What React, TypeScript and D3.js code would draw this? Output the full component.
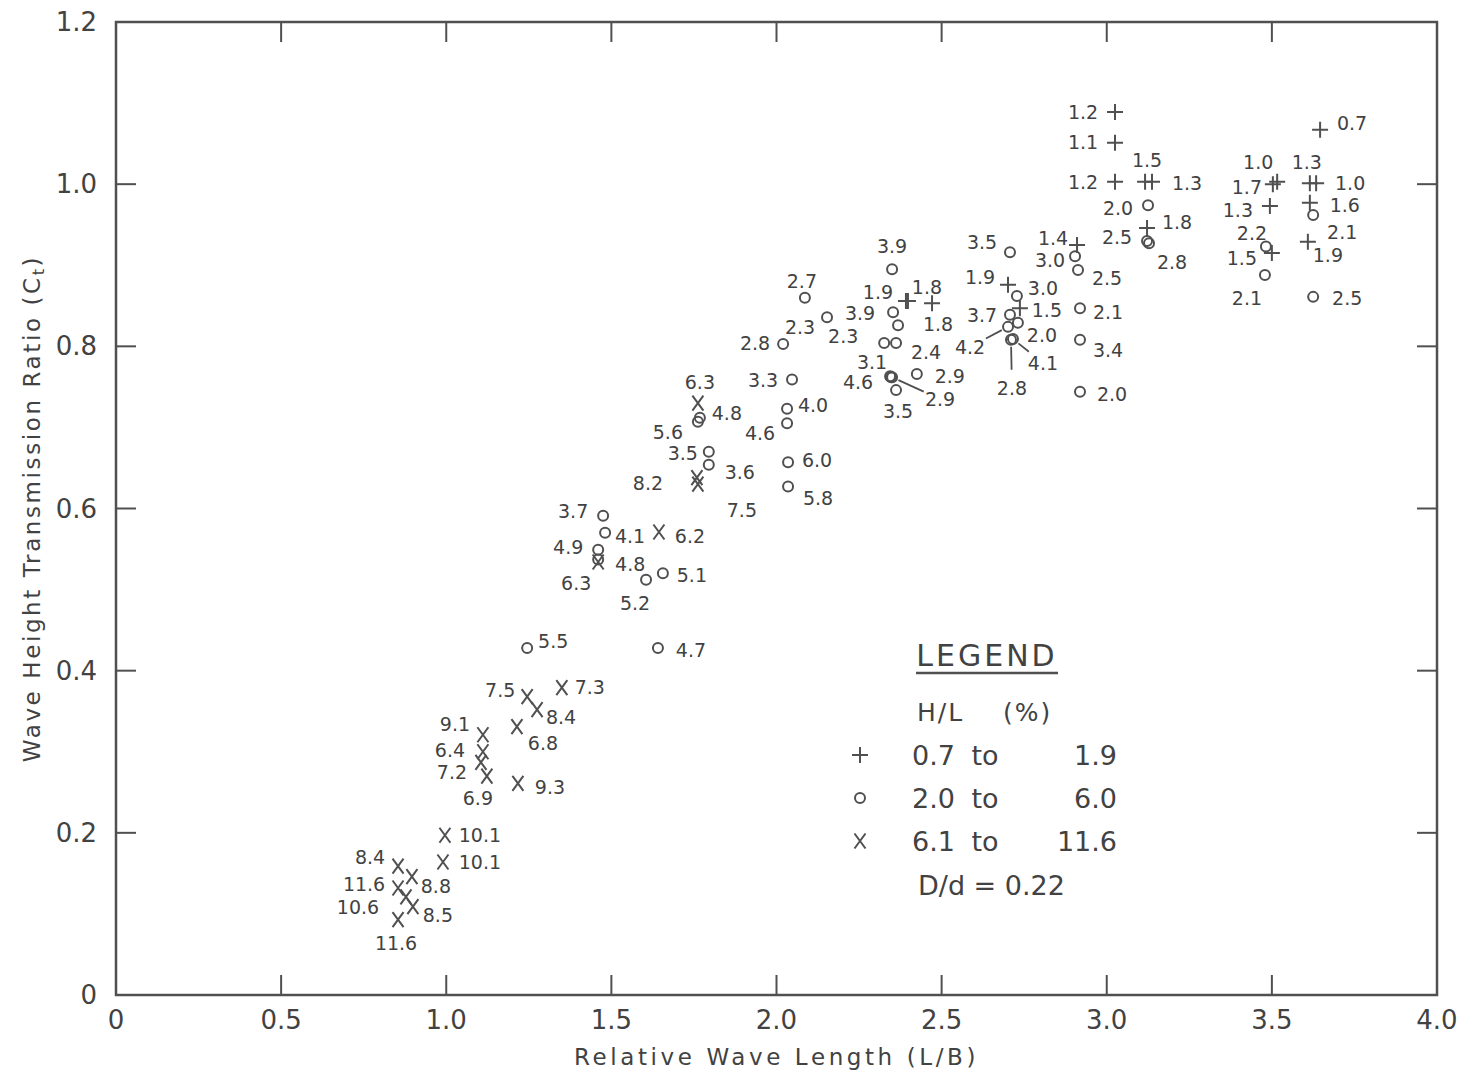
import React from "react";
import * as d3 from "d3";

// ---------- data ----------
const xTickValues = [0, 0.5, 1.0, 1.5, 2.0, 2.5, 3.0, 3.5, 4.0];
const xTickLabels = ["0", "0.5", "1.0", "1.5", "2.0", "2.5", "3.0", "3.5", "4.0"];
const yTickValues = [0, 0.2, 0.4, 0.6, 0.8, 1.0, 1.2];
const yTickLabels = ["0", "0.2", "0.4", "0.6", "0.8", "1.0", "1.2"];

// H/L 0.7 - 1.9  (+)
const plusPoints: [number, number, string][] = [
  [2.392, 0.856, "1.9"], [2.398, 0.856, "1.8"], [2.471, 0.853, "1.8"],
  [2.910, 0.925, "1.4"], [2.701, 0.876, "1.9"], [2.737, 0.847, "1.5"],
  [3.025, 1.089, "1.2"], [3.025, 1.051, "1.1"], [3.025, 1.003, "1.2"],
  [3.116, 1.003, "1.5"], [3.137, 1.003, "1.3"], [3.122, 0.946, "1.8"],
  [3.646, 1.067, "0.7"], [3.516, 1.003, "1.0"], [3.503, 1.000, "1.7"],
  [3.615, 1.001, "1.3"], [3.634, 1.001, "1.0"], [3.494, 0.973, "1.3"],
  [3.615, 0.977, "1.6"], [3.500, 0.915, "1.5"], [3.609, 0.929, "1.9"],
];
const plusLabelOffsets: number[][] = [
  [-28, -9], [19, -14], [6, 21], [-24, -7], [-28, -8], [27, 2],
  [-32, 0], [-32, -1], [-32, 0], [2, -22], [35, 1], [30, -6],
  [32, -7], [-19, -20], [-26, 3], [-3, -21], [34, 0], [-32, 4],
  [35, 2], [-30, 5], [20, 13],
];

// H/L 2.0 - 6.0  (o)
const circlePoints: [number, number, string][] = [
  [1.245, 0.428, "5.5"], [1.475, 0.591, "3.7"], [1.481, 0.570, "4.1"],
  [1.460, 0.549, "4.9"], [1.460, 0.537, "4.8"], [1.656, 0.520, "5.1"],
  [1.605, 0.512, "5.2"], [1.641, 0.428, "4.7"], [1.762, 0.707, "5.6"],
  [1.768, 0.712, "4.8"], [1.795, 0.670, "3.5"], [1.795, 0.654, "3.6"],
  [2.047, 0.759, "3.3"], [2.032, 0.723, "4.0"], [2.032, 0.705, "4.6"],
  [2.035, 0.657, "6.0"], [2.035, 0.627, "5.8"], [2.086, 0.860, "2.7"],
  [2.153, 0.836, "2.3"], [2.020, 0.803, "2.8"], [2.350, 0.895, "3.9"],
  [2.353, 0.842, "3.9"], [2.368, 0.826, ""], [2.326, 0.804, "2.3"],
  [2.362, 0.804, "2.4"], [2.344, 0.763, "3.1"], [2.347, 0.762, "4.6"],
  [2.350, 0.762, "2.9"], [2.362, 0.746, "3.5"], [2.425, 0.766, "2.9"],
  [2.707, 0.916, "3.5"], [2.904, 0.911, "3.0"], [2.913, 0.894, "2.5"],
  [2.728, 0.862, "3.0"], [2.919, 0.847, "2.1"], [2.707, 0.839, "3.7"],
  [2.731, 0.829, "2.0"], [2.701, 0.824, "4.2"], [2.710, 0.808, "2.8"],
  [2.716, 0.809, "4.1"], [2.919, 0.808, "3.4"], [2.919, 0.744, "2.0"],
  [3.125, 0.974, "2.0"], [3.122, 0.930, "2.5"], [3.128, 0.927, "2.8"],
  [3.625, 0.962, "2.1"], [3.482, 0.923, "2.2"], [3.479, 0.888, "2.1"],
  [3.625, 0.861, "2.5"],
];
const circleLabelOffsets: number[][] = [
  [26, -7], [-30, -5], [25, 3], [-30, -3], [32, 4], [29, 2],
  [-11, 23], [33, 2], [-30, 10], [27, -5], [-26, 1], [31, 7],
  [-29, 0], [26, -4], [-27, 10], [29, -2], [30, 11], [-3, -17],
  [-27, 10], [-28, -1], [0, -23], [-33, 1], [0, 0], [-41, -7],
  [30, 9], [-18, -14], [-33, 5], [48, 22], [2, 21], [33, 2],
  [-28, -10], [-25, 4], [29, 8], [26, -8], [28, 4], [-28, 0],
  [24, 12], [-38, 20], [1, 48], [30, 24], [28, 10], [32, 2],
  [-30, 3], [-30, -4], [23, 19], [29, 17], [-14, -14], [-18, 23],
  [34, 1],
];
const circleLeaders = [27, 37, 38, 39];

// H/L 6.1 - 11.6  (x)
const crossPoints: [number, number, string][] = [
  [0.996, 0.197, "10.1"], [0.990, 0.164, "10.1"], [0.854, 0.159, "8.4"],
  [0.896, 0.146, "8.8"], [0.854, 0.132, "11.6"], [0.878, 0.121, "10.6"],
  [0.899, 0.109, "8.5"], [0.854, 0.093, "11.6"], [1.350, 0.379, "7.3"],
  [1.245, 0.368, "7.5"], [1.275, 0.352, "8.4"], [1.214, 0.331, "6.8"],
  [1.111, 0.321, "9.1"], [1.111, 0.300, "6.4"], [1.105, 0.287, "7.2"],
  [1.123, 0.270, "6.9"], [1.217, 0.261, "9.3"], [1.644, 0.571, "6.2"],
  [1.460, 0.534, "6.3"], [1.762, 0.730, "6.3"], [1.759, 0.638, "8.2"],
  [1.762, 0.630, "7.5"],
];
const crossLabelOffsets: number[][] = [
  [35, 0], [37, 0], [-28, -9], [24, 9], [-34, -4], [-48, 10],
  [25, 8], [-2, 23], [28, -1], [-27, -7], [24, 7], [26, 16],
  [-28, -11], [-33, -2], [-29, 10], [-9, 22], [32, 4], [31, 4],
  [-22, 21], [2, -21], [-49, 5], [44, 26],
];

const legendRows: [string, string, string][] = [
  ["+", "0.7", "1.9"],
  ["o", "2.0", "6.0"],
  ["x", "6.1", "11.6"],
];

// ---------- drawing ----------
const INK = "#505050";
const TXT = "#424242";
const FONT = "'DejaVu Sans', 'Liberation Sans', sans-serif";

function Marker({ kind, cx, cy }: { kind: string; cx: number; cy: number }) {
  if (kind === "+")
    return (
      <path d={`M${cx - 8},${cy}H${cx + 8}M${cx},${cy - 8}V${cy + 8}`} stroke={INK} strokeWidth={2} fill="none" />
    );
  if (kind === "o") return <circle cx={cx} cy={cy} r={5} stroke={INK} strokeWidth={2} fill="none" />;
  return (
    <path d={`M${cx - 5.5},${cy - 7.5}L${cx + 5.5},${cy + 7.5}M${cx + 5.5},${cy - 7.5}L${cx - 5.5},${cy + 7.5}`} stroke={INK} strokeWidth={2} fill="none" />
  );
}

export default function App() {
  const x = d3.scaleLinear().domain([0, 4]).range([116, 1437]);
  const y = d3.scaleLinear().domain([0, 1.2]).range([995, 22]);
  const [x0, x1] = x.range();
  const [y0, y1] = y.range();
  const tickLen = 20;

  const series = [
    { kind: "+", pts: plusPoints, offs: plusLabelOffsets, leaders: [] as number[] },
    { kind: "o", pts: circlePoints, offs: circleLabelOffsets, leaders: circleLeaders },
    { kind: "x", pts: crossPoints, offs: crossLabelOffsets, leaders: [] as number[] },
  ];

  return (
    <svg width={1467} height={1074} style={{ position: "absolute", left: 0, top: 0, background: "#fff" }} fontFamily={FONT}>
      <rect x={0} y={0} width={1467} height={1074} fill="#fff" />
      {/* frame */}
      <rect x={x0} y={y1} width={x1 - x0} height={y0 - y1} fill="none" stroke={INK} strokeWidth={2.5} />
      {/* ticks */}
      {xTickValues.slice(1, -1).map((v) => (
        <g key={"xt" + v}>
          <line x1={x(v)} x2={x(v)} y1={y0} y2={y0 - tickLen} stroke={INK} strokeWidth={2} />
          <line x1={x(v)} x2={x(v)} y1={y1} y2={y1 + tickLen} stroke={INK} strokeWidth={2} />
        </g>
      ))}
      {yTickValues.slice(1, -1).map((v) => (
        <g key={"yt" + v}>
          <line x1={x0} x2={x0 + tickLen} y1={y(v)} y2={y(v)} stroke={INK} strokeWidth={2} />
          <line x1={x1} x2={x1 - tickLen} y1={y(v)} y2={y(v)} stroke={INK} strokeWidth={2} />
        </g>
      ))}
      {/* tick labels */}
      {xTickValues.map((v, i) => (
        <text key={"xl" + v} x={x(v)} y={y0 + 25} textAnchor="middle" dominantBaseline="central" fontSize={26} fill={TXT}>
          {xTickLabels[i]}
        </text>
      ))}
      {yTickValues.map((v, i) => (
        <text key={"yl" + v} x={x0 - 19} y={y(v)} textAnchor="end" dominantBaseline="central" fontSize={26} fill={TXT}>
          {yTickLabels[i]}
        </text>
      ))}
      {/* axis titles */}
      <text x={(x0 + x1) / 2} y={1057} textAnchor="middle" dominantBaseline="central" fontSize={23} letterSpacing={3.6} fill={TXT}>
        Relative Wave Length (L/B)
      </text>
      <text
        transform={`translate(32, ${(y0 + y1) / 2}) rotate(-90)`}
        textAnchor="middle"
        dominantBaseline="central"
        fontSize={23}
        letterSpacing={2.6}
        fill={TXT}
      >
        Wave Height Transmission Ratio (C<tspan fontSize={16} dy={6}>t</tspan>
        <tspan dy={-6}>)</tspan>
      </text>

      {/* data */}
      {series.map((s) =>
        s.pts.map((p, i) => {
          const cx = x(p[0]);
          const cy = y(p[1]);
          const [dx, dy] = s.offs[i];
          const lx = cx + dx;
          const ly = cy + dy;
          const len = Math.hypot(dx, dy) || 1;
          const ux = dx / len;
          const uy = dy / len;
          const hasLeader = s.leaders.includes(i);
          return (
            <g key={s.kind + i}>
              <Marker kind={s.kind} cx={cx} cy={cy} />
              {hasLeader && (
                <line x1={cx + ux * 7} y1={cy + uy * 7} x2={lx - ux * 18} y2={ly - uy * 18} stroke={INK} strokeWidth={1.8} />
              )}
              {p[2] && (
                <text x={lx} y={ly} textAnchor="middle" dominantBaseline="central" fontSize={19} fill={TXT}>
                  {p[2]}
                </text>
              )}
            </g>
          );
        })
      )}

      {/* legend */}
      <g fill={TXT}>
        <text x={987} y={655} textAnchor="middle" dominantBaseline="central" fontSize={30} letterSpacing={3}>
          LEGEND
        </text>
        <line x1={916} x2={1058} y1={673} y2={673} stroke={INK} strokeWidth={2.5} />
        <text x={917} y={712} dominantBaseline="central" fontSize={25} letterSpacing={2}>
          H/L
        </text>
        <text x={1003} y={712} dominantBaseline="central" fontSize={25} letterSpacing={2}>
          (%)
        </text>
        {legendRows.map((r, i) => {
          const ry = 755 + i * 43;
          return (
            <g key={"lg" + i}>
              <Marker kind={r[0]} cx={860} cy={ry} />
              <text x={955} y={ry} textAnchor="end" dominantBaseline="central" fontSize={27}>{r[1]}</text>
              <text x={985} y={ry} textAnchor="middle" dominantBaseline="central" fontSize={27}>to</text>
              <text x={1117} y={ry} textAnchor="end" dominantBaseline="central" fontSize={27}>{r[2]}</text>
            </g>
          );
        })}
        <text x={918} y={885} dominantBaseline="central" fontSize={27}>
          D/d = 0.22
        </text>
      </g>
    </svg>
  );
}
